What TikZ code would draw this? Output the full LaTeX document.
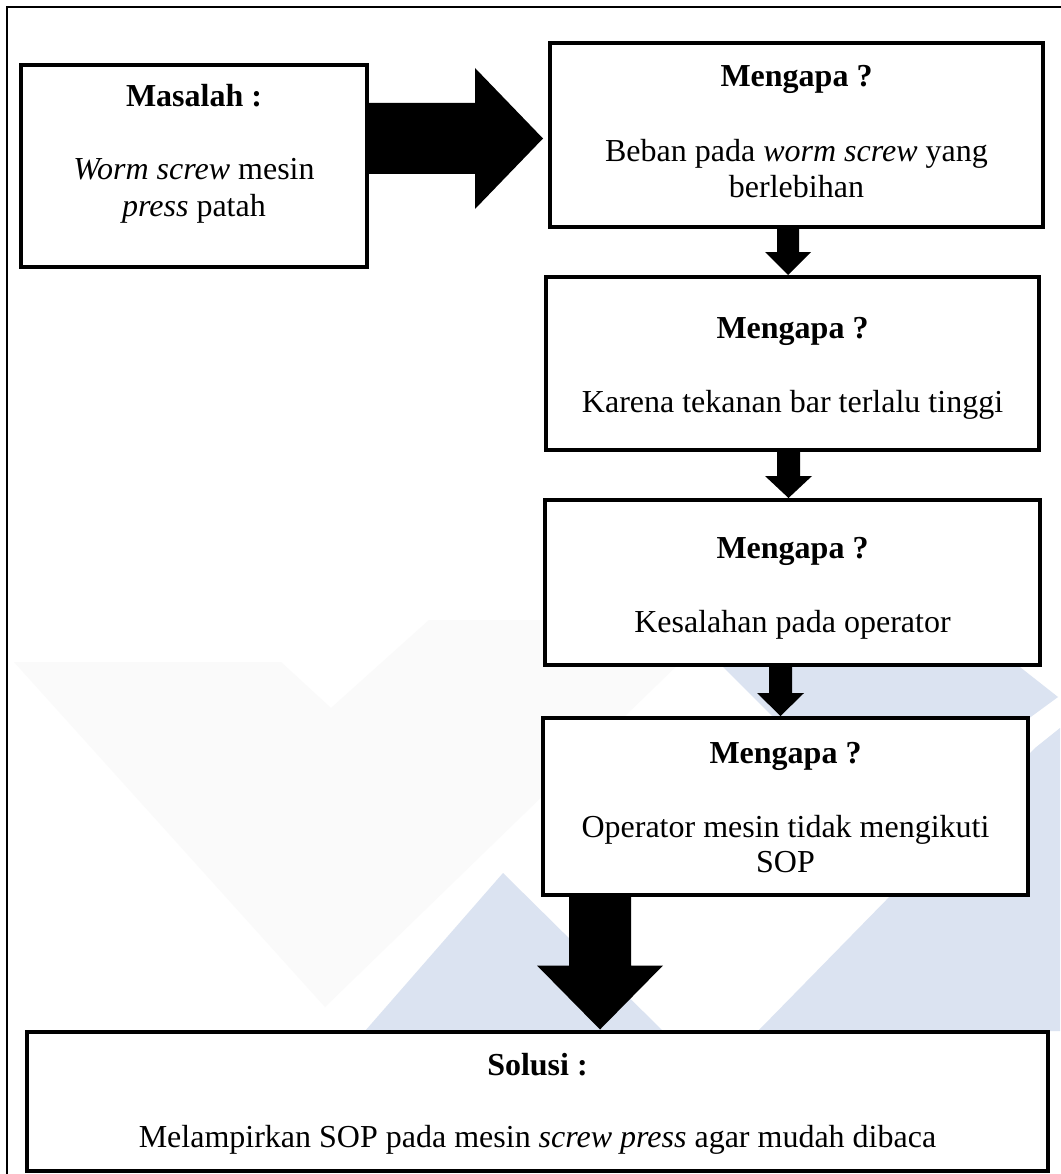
\documentclass[tikz,border=0pt]{standalone}
\usepackage{fontspec}
\setmainfont{Liberation Serif}
\usetikzlibrary{calc}
\definecolor{wmblue}{RGB}{219,227,241}
\definecolor{wmgrey}{RGB}{250,250,250}
\newcommand\blockdown[7]{%
  \path (#3,0 |- #2.north) ++(0,-#7) coordinate (tip);
  \fill[black] ({#3-#4},0 |- #1.south) -- ($(tip)+(-#4,-#6)$) -- ($(tip)+(-#5,-#6)$) -- (tip)
    -- ($(tip)+(#5,-#6)$) -- ($(tip)+(#4,-#6)$) -- ({#3+#4},0 |- #1.south) -- cycle;
}
\begin{document}
\begin{tikzpicture}[x=1pt,y=-1pt,
  box/.style={draw=black,line width=4,fill=white,inner sep=0,outer sep=0,line join=miter},
  txt/.style={anchor=base,inner sep=0,outer sep=0,font=\fontsize{32}{36}\selectfont},
  hd/.style={txt,font=\fontsize{32}{36}\selectfont\bfseries}]
\useasboundingbox (0,0) rectangle (1060,1174);
\fill[white] (0,0) rectangle (1060,1174);
% watermark
\fill[wmgrey] (14,662) -- (281,662) -- (331,708) -- (429,620) -- (724,620) -- (325,1007) -- cycle;
\fill[wmblue] (365,1031) -- (503,873) -- (663,1031) -- cycle;
\fill[wmblue] (716,660) -- (1011,660) -- (1058,697) -- (1028,719) -- (775,719) -- cycle;
\fill[wmblue] (758,1031) -- (1035,748) -- (1060,728) -- (1060,1031) -- cycle;
% frame
\draw[line width=1.8] (7,1180) -- (7,7) -- (1065,7);
% boxes
\node[box,minimum width=346,minimum height=202] (m) at (194,166) {};
\node[box,minimum width=493,minimum height=184] (b2) at (796.5,135) {};
\node[box,minimum width=493,minimum height=173] (b3) at (792.5,363.5) {};
\node[box,minimum width=495,minimum height=165] (b4) at (792.5,582.5) {};
\node[box,minimum width=485,minimum height=177] (b5) at (785.5,806.5) {};
\node[box,minimum width=1021,minimum height=139] (sol) at (537.5,1101) {};
% texts
\node[hd] (m1) at (m.center |- 0,107) {Masalah :};
\node[txt] (m2) at (m.center |- 0,180) {\textit{Worm screw} mesin};
\node[txt] (m3) at (m.center |- 0,217) {\textit{press} patah};
\node[hd] (b2a) at (b2.center |- 0,87) {Mengapa ?};
\node[txt] (b2b) at (b2.center |- 0,162) {Beban pada \textit{worm screw} yang};
\node[txt] (b2c) at (b2.center |- 0,198) {berlebihan};
\node[hd] (b3a) at (b3.center |- 0,338) {Mengapa ?};
\node[txt] (b3b) at (b3.center |- 0,412) {Karena tekanan bar terlalu tinggi};
\node[hd] (b4a) at (b4.center |- 0,558) {Mengapa ?};
\node[txt] (b4b) at (b4.center |- 0,632) {Kesalahan pada operator};
\node[hd] (b5a) at (b5.center |- 0,763) {Mengapa ?};
\node[txt] (b5b) at (b5.center |- 0,837) {Operator mesin tidak mengikuti};
\node[txt] (b5c) at (b5.center |- 0,872) {SOP};
\node[hd] (sa) at (sol.center |- 0,1075) {Solusi :};
\node[txt] (sb) at (sol.center |- 0,1147) {Melampirkan SOP pada mesin \textit{screw press} agar mudah dibaca};
% arrows
\fill[black] (m.east |- 0,103) -- (475,103) -- (475,68) -- ($(b2.west |- 0,138.5)+(-7,0)$)
  -- (475,209) -- (475,174) -- (m.east |- 0,174) -- cycle;
\blockdown{b2}{b3}{788}{11}{23}{23}{2}
\blockdown{b3}{b4}{788.5}{11.5}{23.5}{22}{2}
\blockdown{b4}{b5}{780.5}{11.5}{23.5}{23}{2}
\blockdown{b5}{sol}{600}{31}{63}{64}{2}
\end{tikzpicture}
\end{document}
